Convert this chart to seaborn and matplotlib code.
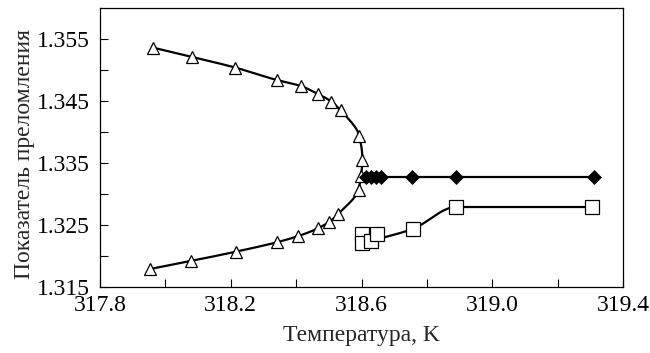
import numpy as np
import pandas as pd
import matplotlib
matplotlib.use("Agg")
import matplotlib.pyplot as plt
import seaborn as sns

# ---- data ----
tri_T = [317.953, 318.078, 318.216, 318.340, 318.406, 318.468, 318.501, 318.529,
         318.591, 318.598, 318.603, 318.593, 318.536, 318.508, 318.468, 318.415,
         318.340, 318.213, 318.082, 317.963]
tri_n = [1.3179, 1.3192, 1.3207, 1.3222, 1.3232, 1.3245, 1.3255, 1.3268,
         1.3307, 1.3329, 1.3355, 1.3394, 1.3435, 1.3449, 1.3461, 1.3474,
         1.3484, 1.3504, 1.3521, 1.3536]

dia_T = [318.615, 318.630, 318.645, 318.660, 318.756, 318.889, 319.312]
dia_n = [1.3328, 1.3328, 1.3328, 1.3328, 1.3328, 1.3328, 1.3328]

sq_T = [318.600, 318.600, 318.628, 318.648, 318.758, 318.889, 319.304]
sq_n = [1.3235, 1.3221, 1.3224, 1.3235, 1.3244, 1.3279, 1.3279]
sq_curve_idx = [2, 4, 5, 6]   # squares that the fitted curve passes through

x_ticks = [317.8, 318.0, 318.2, 318.4, 318.6, 318.8, 319.0, 319.2, 319.4]
x_labels = ["317.8", "", "318.2", "", "318.6", "", "319.0", "", "319.4"]
y_ticks = [1.315, 1.320, 1.325, 1.330, 1.335, 1.340, 1.345, 1.350, 1.355]
y_labels = ["1.315", "", "1.325", "", "1.335", "", "1.345", "", "1.355"]
x_title = "Температура, K"
y_title = "Показатель преломления"


def pchip(x, y, xs):
    x = np.asarray(x, float); y = np.asarray(y, float)
    h = np.diff(x); d = np.diff(y) / h
    m = np.zeros_like(y)
    for k in range(1, len(x) - 1):
        if d[k - 1] * d[k] > 0:
            w1 = 2 * h[k] + h[k - 1]; w2 = h[k] + 2 * h[k - 1]
            m[k] = (w1 + w2) / (w1 / d[k - 1] + w2 / d[k])
    m[0] = d[0]; m[-1] = d[-1]
    idx = np.clip(np.searchsorted(x, xs) - 1, 0, len(h) - 1)
    t = (xs - x[idx]) / h[idx]
    h00 = 2 * t**3 - 3 * t**2 + 1; h10 = t**3 - 2 * t**2 + t
    h01 = -2 * t**3 + 3 * t**2; h11 = t**3 - t**2
    return h00 * y[idx] + h10 * h[idx] * m[idx] + h01 * y[idx + 1] + h11 * h[idx] * m[idx + 1]


sns.set_theme(style="ticks")
plt.rcParams['font.family'] = ['Liberation Serif', 'DejaVu Serif']
plt.rcParams['mathtext.fontset'] = 'stix'

fig = plt.figure(figsize=(6.5, 3.53), dpi=100)
ax = fig.add_axes([100 / 650, 1 - 287 / 353, 523 / 650, 279 / 353])

# smooth curves from the data
ns = np.linspace(min(tri_n), max(tri_n), 600)
tri_curve = pd.DataFrame({"T": pchip(tri_n, tri_T, ns), "n": ns})
sns.lineplot(data=tri_curve, x="T", y="n", sort=False, estimator=None,
             color="black", lw=1.6, ax=ax)

cT = [sq_T[i] for i in sq_curve_idx]; cn = [sq_n[i] for i in sq_curve_idx]
ts = np.linspace(min(cT), max(cT), 400)
sq_curve = pd.DataFrame({"T": ts, "n": pchip(cT, cn, ts)})
sns.lineplot(data=sq_curve, x="T", y="n", sort=False, estimator=None,
             color="black", lw=1.6, ax=ax)

dia_df = pd.DataFrame({"T": dia_T, "n": dia_n})
sns.lineplot(data=dia_df, x="T", y="n", sort=False, estimator=None,
             color="black", lw=1.6, ax=ax)

# markers
ax.plot(tri_T, tri_n, ls="none", marker="^", ms=9, mfc="white", mec="black", mew=0.9, zorder=5)
ax.plot(dia_T, dia_n, ls="none", marker="D", ms=7.5, mfc="black", mec="black", mew=0.5, zorder=5)
ax.plot(sq_T, sq_n, ls="none", marker="s", ms=9.5, mfc="white", mec="black", mew=0.9, zorder=5)

ax.set_xlim(317.8, 319.4)
ax.set_ylim(1.315, 1.36)
ax.set_xticks(x_ticks)
ax.set_xticklabels(x_labels)
ax.set_yticks(y_ticks)
ax.set_yticklabels(y_labels)
ax.tick_params(direction="in", length=6, width=0.8, labelsize=17, colors="black", pad=6)
ax.tick_params(axis="y", pad=7)
for s in ax.spines.values():
    s.set_visible(True)
    s.set_linewidth(0.9)
    s.set_color("black")
ax.set_xlabel(x_title, fontsize=17, labelpad=6)
ax.set_ylabel(y_title, fontsize=17)
ax.yaxis.set_label_coords(-0.124, 0.477)
ax.set_facecolor("white")
fig.patch.set_facecolor("white")

fig.savefig("out.png", dpi=100)
